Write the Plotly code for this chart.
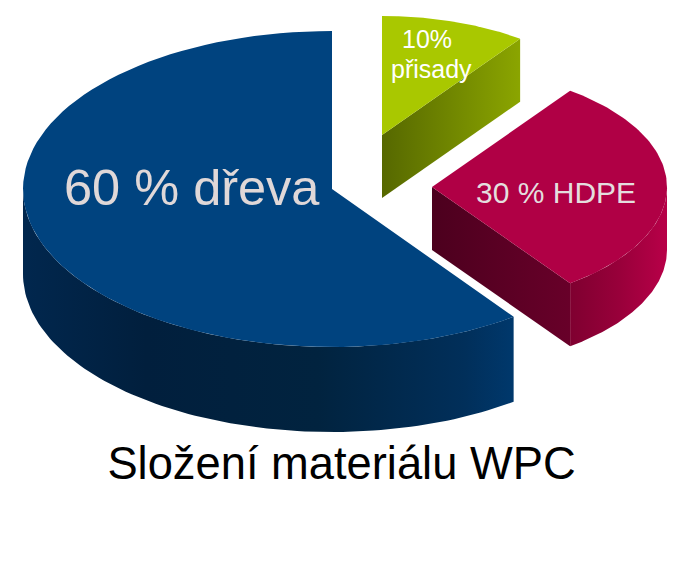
import numpy as np
import plotly.graph_objects as go

# data
categories = ["dřeva", "HDPE", "přisady"]
shares = [60, 30, 10]
slice_labels = ["60 % dřeva", "30 % HDPE", "10%", "přisady"]
chart_title = "Složení materiálu WPC"

# slice geometry in pixels: apex, radii, thickness
apex = [(332, 189), (432, 187), (382, 135)]
radii = [(309, 158), (235, 119), (235, 119)]
depth = [85, 63, 63]

top_colors = ["#00437f", "#b00045", "#a9c800"]
label_pos = [(192, 187), (556, 192), (427, 39), (431, 69)]
label_size = [50.5, 30, 25, 25]
label_colors = ["#e0d8d8", "#e4dede", "#ffffff", "#ffffff"]

WIDTH, HEIGHT = 689, 561

# angles of each slice, starting from the top and going counterclockwise
edges = 90 + np.cumsum([0] + shares) * 3.6


def arc(i, a0, a1, dy=0):
    t = np.radians(np.linspace(a0, a1, 90))
    x = apex[i][0] + radii[i][0] * np.cos(t)
    y = apex[i][1] + dy - radii[i][1] * np.sin(t)
    return x, y


def add_poly(fig, x, y, color=None, stops=None):
    kwargs = dict(x=x, y=y, mode="lines", fill="toself", line=dict(width=0),
                  hoverinfo="skip", showlegend=False)
    if stops:
        kwargs["fillgradient"] = dict(type="horizontal", colorscale=stops)
        kwargs["fillcolor"] = stops[0][1]
    else:
        kwargs["fillcolor"] = color
    fig.add_trace(go.Scatter(**kwargs))


def add_rim(fig, i, a0, a1, stops):
    x0, y0 = arc(i, a0, a1)
    x1, y1 = arc(i, a1, a0, depth[i])
    add_poly(fig, np.r_[x0, x1], np.r_[y0, y1], stops=stops)


def add_cut(fig, i, a, stops):
    ax, ay = apex[i]
    x1, y1 = arc(i, a, a)
    x = [ax, x1[0], x1[0], ax]
    y = [ay, y1[0], y1[0] + depth[i], ay + depth[i]]
    add_poly(fig, x, y, stops=stops)


def add_top(fig, i):
    x, y = arc(i, edges[i], edges[i + 1])
    add_poly(fig, np.r_[apex[i][0], x], np.r_[apex[i][1], y], color=top_colors[i])


fig = go.Figure()

# blue slice
add_rim(fig, 0, 180, edges[1], [[0, "#01274e"], [0.25, "#011f3d"], [0.6, "#01233f"],
                                [0.9, "#012f5a"], [1, "#00386c"]])
add_top(fig, 0)

# green slice
add_cut(fig, 2, edges[2] - 360, [[0, "#566800"], [1, "#8ba500"]])
add_top(fig, 2)

# red slice
add_cut(fig, 1, edges[1], [[0, "#4c001e"], [1, "#680029"]])
add_rim(fig, 1, edges[1], 360, [[0, "#7f0030"], [0.5, "#98003a"], [1, "#b80048"]])
add_top(fig, 1)

annotations = []
for i, label in enumerate(slice_labels):
    annotations.append(dict(
        x=label_pos[i][0], y=label_pos[i][1], xref="x", yref="y",
        text=label, showarrow=False, xanchor="center", yanchor="middle",
        font=dict(size=label_size[i], color=label_colors[i]),
    ))

fig.update_layout(
    width=WIDTH,
    height=HEIGHT,
    margin=dict(l=0, r=0, t=0, b=0),
    paper_bgcolor="white",
    plot_bgcolor="white",
    showlegend=False,
    font=dict(family="Liberation Sans"),
    title=dict(text=chart_title, x=341.5 / WIDTH, y=1 - 463 / HEIGHT, xanchor="center",
               yanchor="middle", font=dict(size=45.3, color="black")),
    annotations=annotations,
    xaxis=dict(range=[0, WIDTH], visible=False, fixedrange=True),
    yaxis=dict(range=[HEIGHT, 0], visible=False, fixedrange=True),
)

fig.write_html("out.html", config=dict(displayModeBar=False),
               post_script="document.body.style.margin='0';")
